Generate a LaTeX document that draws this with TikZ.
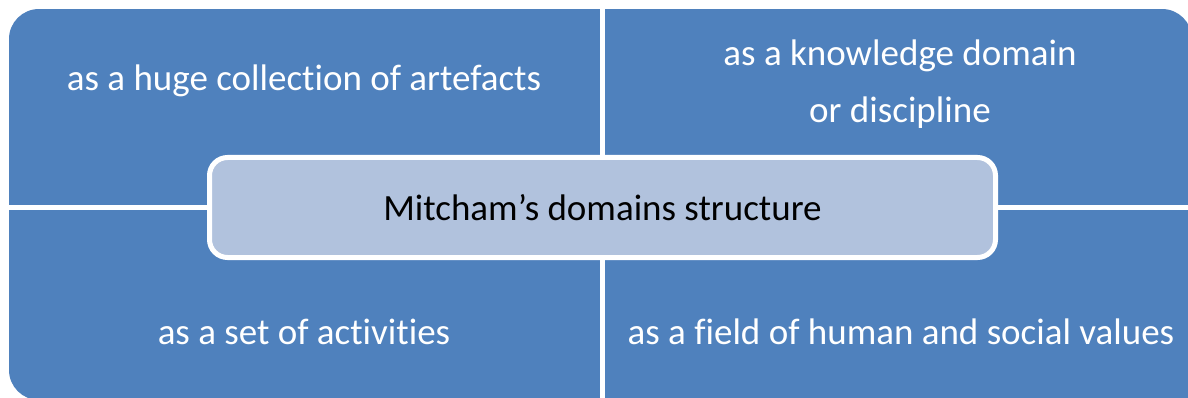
\documentclass[tikz,border=0pt]{standalone}
\usepackage{fontspec}
\setmainfont{Carlito}[Ligatures={NoCommon}]
\definecolor{quadblue}{HTML}{4F81BD}
\definecolor{centerfill}{HTML}{B1C2DD}
\tikzset{
  quad/.style={fill=quadblue},
  quadtext/.style={text=white, font=\fontsize{37}{45}\selectfont, align=center},
  centerbox/.style={draw=white, line width=5pt, fill=centerfill, rounded corners=18pt,
    minimum width=786pt, minimum height=100pt, font=\fontsize{37}{45}\selectfont, text=black}
}
\begin{document}
\begin{tikzpicture}[x=1pt,y=-1pt]
\useasboundingbox (0,0) rectangle (1188,398);
\fill[white] (0,0) rectangle (1188,398);
\begin{scope}
\clip (0,0) rectangle (1188,398);
\begin{scope}
\clip[rounded corners=30pt] (9,9) rectangle (1192,400);
\fill[quad] (9,9) rectangle (600,205);
\fill[quad] (605,9) rectangle (1192,205);
\fill[quad] (9,210) rectangle (600,400);
\end{scope}
\fill[quad] (605,210) rectangle (1192,400);
\end{scope}
\node[quadtext] (tl) at (304,81) {as a huge collection of artefacts};
\node[quadtext] (tr) at (900,84) {as a knowledge domain\\[12pt]or discipline};
\node[quadtext] (bl) at (304,332) {as a set of activities};
\node[quadtext] (br) at (901,332) {as a field of human and social values};
\node[centerbox] (c) at (602.5,207.5) {Mitcham’s domains structure};
\end{tikzpicture}
\end{document}
